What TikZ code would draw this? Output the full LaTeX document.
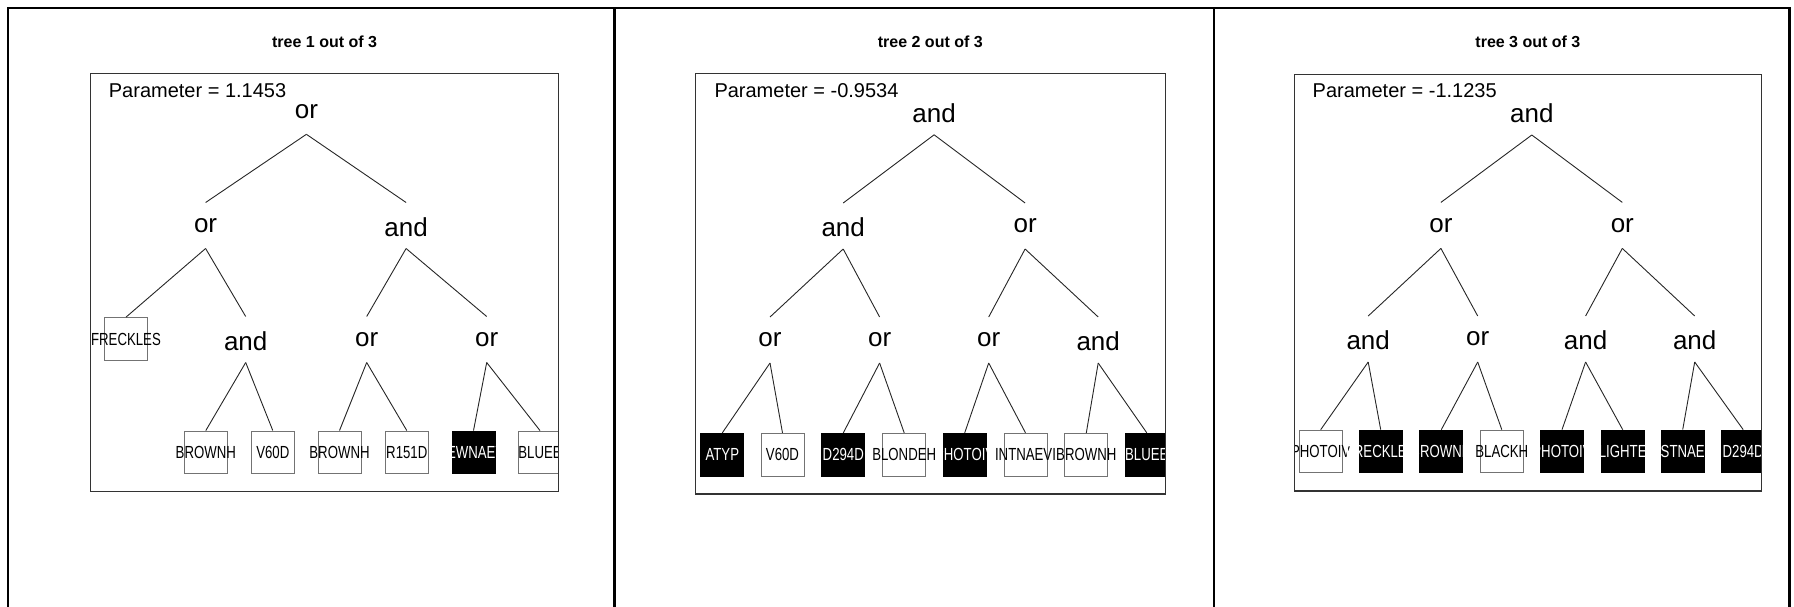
\documentclass[tikz,border=0pt]{standalone}
\usepackage{fontspec}
\setmainfont{Liberation Sans}
\usepackage{graphicx}
\usetikzlibrary{calc}

\tikzset{
  frame/.style={line width=2.4pt, black, line join=miter},
  plotbox/.style={line width=1.1pt, black!80},
  paneltitle/.style={font=\fontsize{16}{18}\selectfont\bfseries, inner sep=0},
  param/.style={font=\fontsize{20}{22}\selectfont, inner sep=0, anchor=west},
  op/.style={font=\fontsize{26}{28}\selectfont, inner sep=0},
  edge/.style={line width=0.9pt, black!85},
  leafw/.style={draw=black!55, fill=white, line width=1pt,
    minimum width=43pt, minimum height=42.7pt, inner sep=0},
  leafb/.style={draw=black, fill=black, line width=1pt,
    minimum width=43pt, minimum height=42.7pt, inner sep=0},
  leaftxt/.style={font=\fontsize{17.5}{18}\selectfont, inner sep=0},
}

% operator nodes: a coordinate for the level position plus its label
\newcommand\opor[3]{\coordinate (#1) at (#2,#3); \node[op] (#1-l) at (#1) {or};}
\newcommand\opand[3]{\coordinate (#1) at (#2,#3); \node[op] (#1-l) at ($(#1)+(0,1.5)$) {and};}
% leaves: white box with black label, black box with white label
\newcommand\leafW[4]{\node[leafw] (#1) at (#2,#3) {};
  \node[leaftxt] (#1-t) at (#1.center) {\scalebox{0.755}[1]{#4}};}
\newcommand\leafB[4]{\node[leafb] (#1) at (#2,#3) {};
  \node[leaftxt, text=white] (#1-t) at (#1.center) {\scalebox{0.755}[1]{#4}};}
% connectors
\newcommand\edgeop[2]{\draw[edge] ($(#1)+(0,23)$) -- ($(#2)+(0,-23)$);}
\newcommand\edgelf[2]{\draw[edge] ($(#1)+(0,23)$) -- (#2.north);}

\begin{document}
\begin{tikzpicture}[x=1pt,y=-1pt]
\useasboundingbox (0,0) rectangle (1794,606);

% outer frame and panel dividers
\draw[frame] (7.9,620) -- (7.9,7.8) -- (1789.5,7.8) -- (1789.5,620);
\draw[frame] (614.3,7.8) -- (614.3,620);
\draw[frame] (1213.8,7.8) -- (1213.8,620);

%% ---------------- tree 1 ----------------
\node[paneltitle] (ti1) at (324.6,41.4) {tree 1 out of 3};
\begin{scope}
  \clip (90.5,73.4) rectangle (558.7,491.5);
  \node[param] (p1) at (108.7,90.8) {Parameter = 1.1453};
  \opor{a0}{306.4}{111.3}
  \opor{a1}{205.6}{225.5}
  \opand{a2}{406.1}{225.5}
  \opand{a3}{245.7}{339.5}
  \opor{a4}{366.7}{339.5}
  \opor{a5}{486.7}{339.5}
  \leafW{al0}{126}{339}{FRECKLES}
  \leafW{al1}{205.8}{452.4}{BROWNH}
  \leafW{al2}{272.8}{452.4}{V60D}
  \leafW{al3}{339.5}{452.4}{BROWNH}
  \leafW{al4}{406.8}{452.4}{R151D}
  \leafB{al5}{473.5}{452.4}{FEWNAEVI}
  \leafW{al6}{540}{452.4}{BLUEE}
  \edgeop{a0}{a1} \edgeop{a0}{a2}
  \edgelf{a1}{al0} \edgeop{a1}{a3}
  \edgeop{a2}{a4} \edgeop{a2}{a5}
  \edgelf{a3}{al1} \edgelf{a3}{al2}
  \edgelf{a4}{al3} \edgelf{a4}{al4}
  \edgelf{a5}{al5} \edgelf{a5}{al6}
\end{scope}
\draw[plotbox] (90.5,73.4) rectangle (558.7,491.5);

%% ---------------- tree 2 ----------------
\node[paneltitle] (ti2) at (930.3,41.4) {tree 2 out of 3};
\begin{scope}
  \clip (695.3,73.4) rectangle (1165.3,494);
  \node[param] (p2) at (714.3,90.8) {Parameter = -0.9534};
  \opand{b0}{934.1}{111.8}
  \opand{b1}{843.2}{226}
  \opor{b2}{1025.1}{226}
  \opor{b3}{770}{340}
  \opor{b4}{879.6}{340}
  \opor{b5}{988.7}{340}
  \opand{b6}{1098.2}{340}
  \leafB{bl1}{722.3}{454.7}{ATYP}
  \leafW{bl2}{782.5}{454.7}{V60D}
  \leafB{bl3}{843.3}{454.7}{D294D}
  \leafW{bl4}{904.2}{454.7}{BLONDEH}
  \leafB{bl5}{964.7}{454.7}{PHOTOIV}
  \leafW{bl6}{1025.5}{454.7}{INTNAEVI}
  \leafW{bl7}{1086.3}{454.7}{BROWNH}
  \leafB{bl8}{1146.8}{454.7}{BLUEE}
  \edgeop{b0}{b1} \edgeop{b0}{b2}
  \edgeop{b1}{b3} \edgeop{b1}{b4}
  \edgeop{b2}{b5} \edgeop{b2}{b6}
  \edgelf{b3}{bl1} \edgelf{b3}{bl2}
  \edgelf{b4}{bl3} \edgelf{b4}{bl4}
  \edgelf{b5}{bl5} \edgelf{b5}{bl6}
  \edgelf{b6}{bl7} \edgelf{b6}{bl8}
\end{scope}
\draw[plotbox] (695.3,73.4) rectangle (1165.3,494);

%% ---------------- tree 3 ----------------
\node[paneltitle] (ti3) at (1527.9,41.4) {tree 3 out of 3};
\begin{scope}
  \clip (1294.3,74.2) rectangle (1761.5,491);
  \node[param] (p3) at (1312.5,90.8) {Parameter = -1.1235};
  \opand{c0}{1531.8}{112}
  \opor{c1}{1440.9}{225.4}
  \opor{c2}{1622.3}{225.4}
  \opand{c3}{1368.2}{339}
  \opor{c4}{1477.7}{339}
  \opand{c5}{1585.6}{339}
  \opand{c6}{1694.7}{339}
  \leafW{cl1}{1320.7}{451.5}{PHOTOIV}
  \leafB{cl2}{1380.7}{451.5}{FRECKLES}
  \leafB{cl3}{1441.3}{451.5}{BROWNH}
  \leafW{cl4}{1501.8}{451.5}{BLACKH}
  \leafB{cl5}{1562}{451.5}{PHOTOIV}
  \leafB{cl6}{1622.7}{451.5}{LIGHTE}
  \leafB{cl7}{1682.7}{451.5}{STNAE}
  \leafB{cl8}{1743.2}{451.5}{D294D}
  \edgeop{c0}{c1} \edgeop{c0}{c2}
  \edgeop{c1}{c3} \edgeop{c1}{c4}
  \edgeop{c2}{c5} \edgeop{c2}{c6}
  \edgelf{c3}{cl1} \edgelf{c3}{cl2}
  \edgelf{c4}{cl3} \edgelf{c4}{cl4}
  \edgelf{c5}{cl5} \edgelf{c5}{cl6}
  \edgelf{c6}{cl7} \edgelf{c6}{cl8}
\end{scope}
\draw[plotbox] (1294.3,74.2) rectangle (1761.5,491);

\end{tikzpicture}
\end{document}
